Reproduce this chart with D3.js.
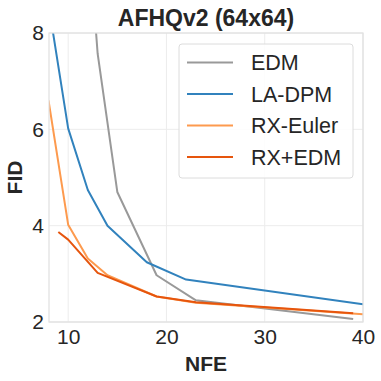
<!DOCTYPE html>
<html>
<head>
<meta charset="utf-8">
<script src="https://cdn.jsdelivr.net/npm/d3@7"></script>
<style>
  body { margin: 0; background: #fff; }
  svg text { font-family: "Liberation Sans", Arial, sans-serif; fill: #262626; }
</style>
</head>
<body>
<div id="chart"></div>
<script>
'use strict';

// Data
var seriesNames = ["EDM", "LA-DPM", "RX-Euler", "RX+EDM"];
var seriesColors = ["#999999", "#3182bd", "#fd9a4e", "#e6550d"];

var edmNfe = [11, 13, 15, 19, 23, 39];
var edmFid = [13.0, 7.57, 4.70, 2.97, 2.45, 2.06];

var ladpmNfe = [8, 10, 12, 14, 18, 22, 40];
var ladpmFid = [8.6, 6.02, 4.74, 4.0, 3.24, 2.88, 2.37];

var rxEulerNfe = [8, 10, 12, 14, 19, 23, 40];
var rxEulerFid = [6.6, 4.02, 3.32, 2.97, 2.53, 2.40, 2.16];

var rxEdmNfe = [9, 10, 13, 19, 23, 39];
var rxEdmFid = [3.87, 3.71, 3.02, 2.53, 2.41, 2.18];

var xTicks = [10, 20, 30, 40];
var yTicks = [2, 4, 6, 8];

var allNfe = [edmNfe, ladpmNfe, rxEulerNfe, rxEdmNfe];
var allFid = [edmFid, ladpmFid, rxEulerFid, rxEdmFid];

// Set the dimensions of the canvas / graph
var margin = {top: 33, right: 18, bottom: 59, left: 49},
    width = 381 - margin.left - margin.right,
    height = 381 - margin.top - margin.bottom;

var svg = d3.select("#chart").append("svg")
    .attr("width", 381)
    .attr("height", 381);

var chart = svg.append("g")
    .attr("transform", "translate(" + margin.left + "," + margin.top + ")");

var x = d3.scaleLinear().domain([8.05, 40]).range([0, width]);
var y = d3.scaleLinear().domain([2, 8]).range([height, 0]);

// Gridlines
chart.selectAll(".xgrid")
    .data(xTicks)
  .enter().append("line")
    .attr("x1", function(d) { return x(d); })
    .attr("x2", function(d) { return x(d); })
    .attr("y1", 0)
    .attr("y2", height)
    .attr("stroke", "#ececec")
    .attr("stroke-width", 1);

chart.selectAll(".ygrid")
    .data(yTicks)
  .enter().append("line")
    .attr("x1", 0)
    .attr("x2", width)
    .attr("y1", function(d) { return y(d); })
    .attr("y2", function(d) { return y(d); })
    .attr("stroke", "#ececec")
    .attr("stroke-width", 1);

// Clip for the lines
chart.append("clipPath")
    .attr("id", "clip")
  .append("rect")
    .attr("width", width)
    .attr("height", height);

var valueline = d3.line()
    .x(function(d) { return x(d[0]); })
    .y(function(d) { return y(d[1]); });

seriesNames.forEach(function(name, i) {
    var pts = allNfe[i].map(function(n, j) { return [n, allFid[i][j]]; });
    chart.append("path")
        .attr("clip-path", "url(#clip)")
        .attr("fill", "none")
        .attr("stroke", seriesColors[i])
        .attr("stroke-width", 2)
        .attr("stroke-linejoin", "round")
        .attr("d", valueline(pts));
});

// Frame
chart.append("rect")
    .attr("width", width)
    .attr("height", height)
    .attr("fill", "none")
    .attr("stroke", "#e0e0e0")
    .attr("stroke-width", 1.2);

// Axes (no tick marks, no domain line)
var xAxis = d3.axisBottom(x).tickValues(xTicks).tickSize(0).tickPadding(7)
    .tickFormat(d3.format("d"));
var yAxis = d3.axisLeft(y).tickValues(yTicks).tickSize(0).tickPadding(5)
    .tickFormat(d3.format("d"));

chart.append("g")
    .attr("transform", "translate(0," + height + ")")
    .call(xAxis)
    .call(function(g) { g.select(".domain").remove(); })
    .selectAll("text")
        .style("font-size", "21px")
        .style("font-family", "Liberation Sans, Arial, sans-serif")
        .attr("fill", "#262626");

chart.append("g")
    .call(yAxis)
    .call(function(g) { g.select(".domain").remove(); })
    .selectAll("text")
        .style("font-size", "21px")
        .style("font-family", "Liberation Sans, Arial, sans-serif")
        .attr("fill", "#262626");

// Title and axis labels
svg.append("text")
    .attr("x", 206)
    .attr("y", 26)
    .attr("text-anchor", "middle")
    .style("font-size", "23px")
    .style("font-weight", "bold")
    .text("AFHQv2 (64x64)");

svg.append("text")
    .attr("x", 206)
    .attr("y", 371)
    .attr("text-anchor", "middle")
    .style("font-size", "21px")
    .style("font-weight", "bold")
    .text("NFE");

svg.append("text")
    .attr("transform", "translate(22,177.5) rotate(-90)")
    .attr("text-anchor", "middle")
    .style("font-size", "21px")
    .style("font-weight", "bold")
    .text("FID");

// Legend
var legend = svg.append("g").attr("transform", "translate(179,44)");
legend.append("rect")
    .attr("width", 174)
    .attr("height", 134)
    .attr("rx", 3)
    .attr("fill", "#fff")
    .attr("fill-opacity", 0.85)
    .attr("stroke", "#dcdcdc")
    .attr("stroke-width", 1);

seriesNames.forEach(function(name, i) {
    var cy = 18.5 + i * 31.5;
    legend.append("line")
        .attr("x1", 8)
        .attr("x2", 54)
        .attr("y1", cy)
        .attr("y2", cy)
        .attr("stroke", seriesColors[i])
        .attr("stroke-width", 2);
    legend.append("text")
        .attr("x", 72)
        .attr("y", cy)
        .attr("dy", "0.36em")
        .style("font-size", "21.5px")
        .text(name);
});
</script>
</body>
</html>
